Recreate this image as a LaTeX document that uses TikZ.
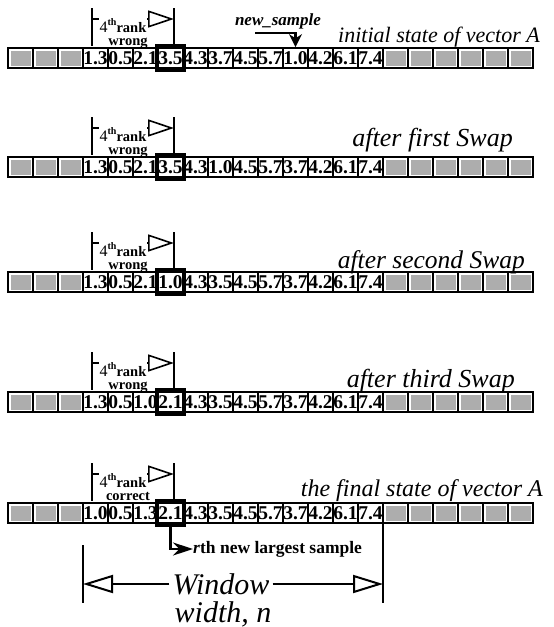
\documentclass[tikz,border=0pt]{standalone}
\usepackage{fontspec}
\setmainfont{Liberation Serif}
\usetikzlibrary{arrows.meta}

\begin{document}
\begin{tikzpicture}[
    x=1pt, y=-1pt,
    cell/.style={rectangle, draw=black, line width=1.8pt, minimum width=25pt, minimum height=20pt, inner sep=0pt},
    shade/.style={fill=black!32},
    val/.style={inner sep=0pt, font=\fontsize{19.5}{19.5}\selectfont\bfseries},
    hl/.style={rectangle, draw=black, line width=3.2pt, minimum width=28pt, minimum height=25pt, inner sep=0pt},
    rowlabel/.style={anchor=base east, inner sep=0pt},
    rank/.style={anchor=base, inner sep=1pt, fill=white, font=\fontsize{14.5}{14.5}\selectfont\bfseries},
    bar/.style={line width=1.6pt},
    rankarrow/.style={line width=1.6pt, -{Triangle[open, length=26pt, width=17pt, line width=1.6pt]}},
    dimarrow/.style={line width=2pt, -{Triangle[open, length=30pt, width=18pt, line width=2pt]}}
]
\useasboundingbox (0,0) rectangle (554,627);

% Vector A, one strip for each state
\foreach \r/\ytop/\vals/\lab/\fs/\lx/\ly/\word in {
    1/48/{1.3,0.5,2.1,3.5,4.3,3.7,4.5,5.7,1.0,4.2,6.1,7.4}/{initial state of vector A}/22/540/42/wrong,
    2/157/{1.3,0.5,2.1,3.5,4.3,1.0,4.5,5.7,3.7,4.2,6.1,7.4}/{after first Swap}/26/513/146/wrong,
    3/272/{1.3,0.5,2.1,1.0,4.3,3.5,4.5,5.7,3.7,4.2,6.1,7.4}/{after second Swap}/25.5/525/268/wrong,
    4/392/{1.3,0.5,1.0,2.1,4.3,3.5,4.5,5.7,3.7,4.2,6.1,7.4}/{after third Swap}/26/515/387/wrong,
    5/503/{1.0,0.5,1.3,2.1,4.3,3.5,4.5,5.7,3.7,4.2,6.1,7.4}/{the final state of vector A}/24/543/496/correct} {
  % cells
  \foreach \i in {0,...,20}
    \node (r\r-\i) [cell] at ({20.5+25*\i}, \ytop+10) {};
  \foreach \i in {0,1,2,15,16,17,18,19,20}
    \fill [shade] ({8+25*\i+2.5}, \ytop+2.5) rectangle ({8+25*\i+22.5}, \ytop+17.5);
  \foreach \v [count=\k from 3] in \vals
    \node (v\r-\k) [val] at (r\r-\k) {\v};
  \node (hl\r) [hl] at (r\r-6) {};
  % 4th rank bracket
  \draw [bar] (92, \ytop-40) -- (92, \ytop-2);
  \draw [bar] (174, \ytop-40) -- (174, \ytop-2);
  \draw [rankarrow] (92, \ytop-29) -- (174, \ytop-29);
  \node (rank\r) [rank] at (123, \ytop-16)
    {{\fontsize{16}{16}\selectfont\mdseries 4}\raisebox{7pt}{\fontsize{10}{10}\selectfont th}rank};
  \node (state\r) [rank, fill=none, inner sep=0pt] at (128, \ytop-3) {\word};
  \node (label\r) [rowlabel, font=\fontsize{\fs}{\fs}\selectfont\itshape] at (\lx, \ly) {\lab};
}

% New sample
\node (newsample) [anchor=base, inner sep=0pt, font=\fontsize{17}{17}\selectfont\bfseries\itshape] at (278, 25) {new\_sample};
\coordinate (nsstart) at (255, 33);
\draw [line width=2.5pt, -{Stealth[length=13pt, width=13pt]}] (nsstart) -| (r1-11.north);

% rth new largest sample
\node (largest) [anchor=west, inner sep=0pt, font=\fontsize{17.5}{17.5}\selectfont\bfseries] at (193, 549) {\textit{r}th new largest sample};
\draw [line width=2.2pt, -{Stealth[length=20pt, width=13pt]}] (hl5.south) |- (largest.west);

% Window width
\node (window) [inner sep=3pt, font=\fontsize{30}{30}\selectfont\itshape] at (221, 584) {Window};
\node (widthn) [anchor=base, inner sep=0pt, font=\fontsize{30}{30}\selectfont\itshape] at (223, 622) {width, n};
\coordinate (winL) at (83, 584);
\coordinate (winR) at (383, 584);
\draw [bar] (83, 545) -- (83, 603);
\draw [bar] (383, 520) -- (383, 603);
\draw [dimarrow] (window.west) -- (winL);
\draw [dimarrow] (window.east) -- (winR);

\end{tikzpicture}
\end{document}
